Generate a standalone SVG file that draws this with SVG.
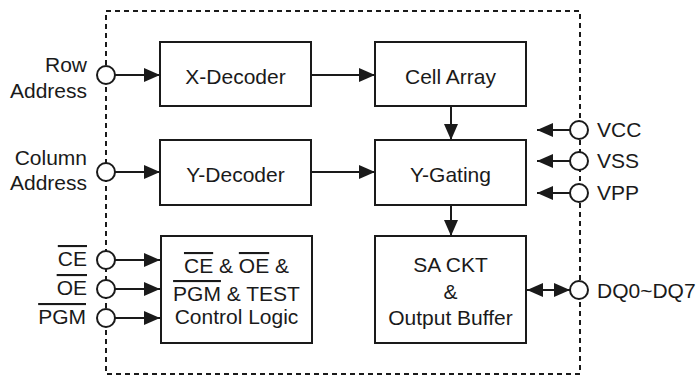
<svg xmlns="http://www.w3.org/2000/svg" width="696" height="377" viewBox="0 0 696 377">
<defs>
<style>
.box{fill:#fff;stroke:#1a1a1a;stroke-width:2}
.pin{fill:#fff;stroke:#1a1a1a;stroke-width:2}
.ln{stroke:#1a1a1a;stroke-width:2;fill:none}
text{font-family:"Liberation Sans",Arial,sans-serif;font-size:21px;fill:#1a1a1a}
.c{text-anchor:middle}
.r{text-anchor:end}
.ov{text-decoration:overline}
</style>
<marker id="ah" markerUnits="userSpaceOnUse" markerWidth="16" markerHeight="14" refX="16" refY="7" orient="auto-start-reverse" viewBox="0 0 16 14">
<path d="M0,0 L16,7 L0,14 Z" fill="#1a1a1a"/>
</marker>
</defs>
<rect x="0" y="0" width="696" height="377" fill="#fff"/>
<rect id="chip" x="106" y="11" width="474" height="363" fill="none" stroke="#1a1a1a" stroke-width="2" stroke-dasharray="5 4"/>

<g id="connectors">
<line class="ln" x1="115" y1="75" x2="160" y2="75" marker-end="url(#ah)"/>
<line class="ln" x1="115" y1="172" x2="160" y2="172" marker-end="url(#ah)"/>
<line class="ln" x1="115" y1="260" x2="160" y2="260" marker-end="url(#ah)"/>
<line class="ln" x1="115" y1="289" x2="160" y2="289" marker-end="url(#ah)"/>
<line class="ln" x1="115" y1="318" x2="160" y2="318" marker-end="url(#ah)"/>
<line class="ln" x1="311" y1="75" x2="375" y2="75" marker-end="url(#ah)"/>
<line class="ln" x1="311" y1="172" x2="375" y2="172" marker-end="url(#ah)"/>
<line class="ln" x1="451" y1="106" x2="451" y2="140" marker-end="url(#ah)"/>
<line class="ln" x1="451" y1="205" x2="451" y2="236" marker-end="url(#ah)"/>
<line class="ln" x1="570" y1="130" x2="537" y2="130" marker-end="url(#ah)"/>
<line class="ln" x1="570" y1="161" x2="537" y2="161" marker-end="url(#ah)"/>
<line class="ln" x1="570" y1="193" x2="537" y2="193" marker-end="url(#ah)"/>
<line class="ln" x1="527" y1="290" x2="570" y2="290" marker-start="url(#ah)" marker-end="url(#ah)"/>
</g>

<g id="x-decoder"><rect class="box" x="160" y="42" width="151" height="64"/><text class="c" x="235.5" y="84">X-Decoder</text></g>
<g id="cell-array"><rect class="box" x="375" y="42" width="151" height="64"/><text class="c" x="450.5" y="84">Cell Array</text></g>
<g id="y-decoder"><rect class="box" x="160" y="140" width="151" height="65"/><text class="c" x="235.5" y="182">Y-Decoder</text></g>
<g id="y-gating"><rect class="box" x="375" y="140" width="151" height="65"/><text class="c" x="450.5" y="182">Y-Gating</text></g>
<g id="control-logic"><rect class="box" x="161" y="236" width="151" height="107"/>
<text class="c" x="236.5" y="273"><tspan class="ov">CE</tspan> &amp; <tspan class="ov">OE</tspan> &amp;</text>
<text class="c" x="236.5" y="301"><tspan class="ov">PGM</tspan> &amp; TEST</text>
<text class="c" x="236.5" y="324">Control Logic</text></g>
<g id="sa-ckt"><rect class="box" x="375" y="236" width="151" height="107"/>
<text class="c" x="450.5" y="272">SA CKT</text>
<text class="c" x="450.5" y="299">&amp;</text>
<text class="c" x="450.5" y="325">Output Buffer</text></g>

<g id="pin-row"><circle class="pin" cx="106" cy="75" r="9"/><text class="r" x="87" y="72">Row</text><text class="r" x="87" y="98">Address</text></g>
<g id="pin-col"><circle class="pin" cx="106" cy="172" r="9"/><text class="r" x="87" y="165">Column</text><text class="r" x="87" y="190">Address</text></g>
<g id="pin-ce"><circle class="pin" cx="106" cy="260" r="9"/><text class="r ov" x="87" y="266">CE</text></g>
<g id="pin-oe"><circle class="pin" cx="106" cy="289" r="9"/><text class="r ov" x="87" y="295">OE</text></g>
<g id="pin-pgm"><circle class="pin" cx="106" cy="318" r="9"/><text class="r ov" x="86" y="324">PGM</text></g>
<g id="pin-vcc"><circle class="pin" cx="579" cy="130" r="9"/><text x="597" y="137">VCC</text></g>
<g id="pin-vss"><circle class="pin" cx="579" cy="161" r="9"/><text x="597" y="168">VSS</text></g>
<g id="pin-vpp"><circle class="pin" cx="579" cy="193" r="9"/><text x="597" y="200">VPP</text></g>
<g id="pin-dq"><circle class="pin" cx="579" cy="290" r="9"/><text x="597" y="298">DQ0~DQ7</text></g>
</svg>
